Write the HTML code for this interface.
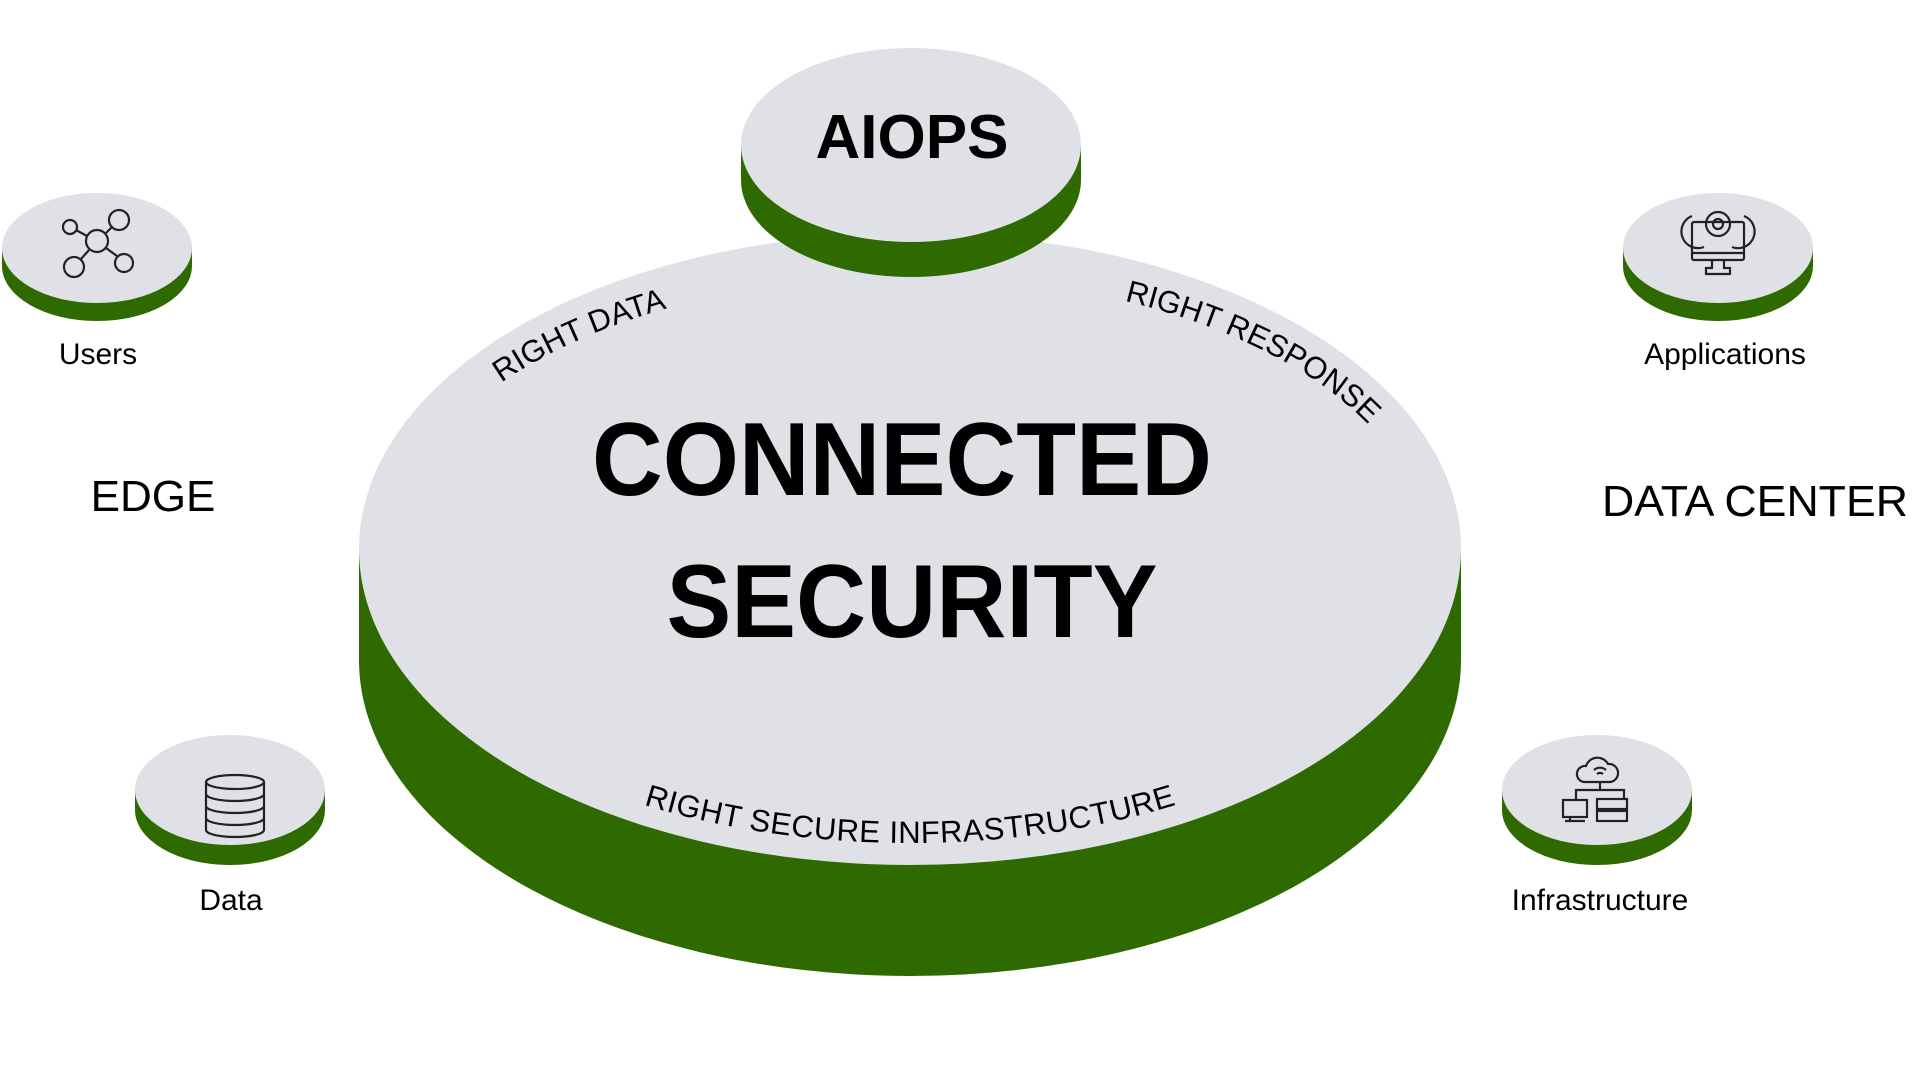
<!DOCTYPE html>
<html><head><meta charset="utf-8"><style>
html,body{margin:0;padding:0;background:#fff;}
svg{display:block;}
text{font-family:"Liberation Sans",sans-serif;fill:#000;}
</style></head><body>
<svg width="1920" height="1080" viewBox="0 0 1920 1080" xmlns="http://www.w3.org/2000/svg">
<defs>
<path id="topArc" d="M 395 549 A 515 273 0 0 1 1425 549"/>
<path id="botArc" d="M 370 549 A 540 294 0 0 0 1450 549"/>
</defs>
<!-- main disc -->
<ellipse cx="910" cy="660" rx="551" ry="316" fill="#2e6a00"/>
<rect x="359" y="549" width="1102" height="111" fill="#2e6a00"/>
<ellipse cx="910" cy="549" rx="551" ry="316" fill="#e0e1e6"/>
<!-- AIOPS disc -->
<ellipse cx="911" cy="180" rx="170" ry="97" fill="#2e6a00"/>
<rect x="741" y="145" width="340" height="35" fill="#2e6a00"/>
<ellipse cx="911" cy="145" rx="170" ry="97" fill="#e0e1e6"/>
<text x="912" y="158" font-size="62" font-weight="bold" text-anchor="middle">AIOPS</text>
<!-- small discs -->
<g fill="#2e6a00">
<ellipse cx="97" cy="266" rx="95" ry="55"/><rect x="2" y="248" width="190" height="18"/>
<ellipse cx="1718" cy="266" rx="95" ry="55"/><rect x="1623" y="248" width="190" height="18"/>
<ellipse cx="230" cy="810" rx="95" ry="55"/><rect x="135" y="790" width="190" height="20"/>
<ellipse cx="1597" cy="810" rx="95" ry="55"/><rect x="1502" y="790" width="190" height="20"/>
</g>
<g fill="#e0e1e6">
<ellipse cx="97" cy="248" rx="95" ry="55"/>
<ellipse cx="1718" cy="248" rx="95" ry="55"/>
<ellipse cx="230" cy="790" rx="95" ry="55"/>
<ellipse cx="1597" cy="790" rx="95" ry="55"/>
</g>
<!-- icons -->
<g fill="none" stroke="#222" stroke-width="2.2">
 <circle cx="97" cy="241" r="11"/><circle cx="70" cy="227" r="7"/><circle cx="119" cy="220" r="10"/>
 <circle cx="74" cy="267" r="10"/><circle cx="124" cy="263" r="9"/>
 <line x1="76" y1="230" x2="87" y2="236"/><line x1="112" y1="227" x2="106" y2="233"/>
 <line x1="81" y1="259" x2="89" y2="250"/><line x1="117" y1="256" x2="106" y2="248"/>
 <rect x="1692" y="222" width="52" height="38" rx="2"/><line x1="1692" y1="253" x2="1744" y2="253"/>
 <path d="M1712 260 v8 h-6 v6 h24 v-6 h-6 v-8"/>
 <circle cx="1718" cy="224" r="12"/><circle cx="1718" cy="224" r="5"/>
 <path d="M1692 216 a16 16 0 0 0 12 31 M1744 216 a16 16 0 0 1 -12 31"/>
 <ellipse cx="235" cy="782" rx="29" ry="7"/>
 <path d="M206 782 v48 a29 7 0 0 0 58 0 v-48 M206 794 a29 7 0 0 0 58 0 M206 806 a29 7 0 0 0 58 0 M206 818 a29 7 0 0 0 58 0"/>
 <path d="M1584 782 a8 8 0 0 1 2 -16 a12 12 0 0 1 22 -2 a9 9 0 0 1 2 18 z"/>
 <path d="M1594 770 a9 9 0 0 1 12 0 M1597 774 a5 5 0 0 1 6 0"/>
 <path d="M1600 782 v8 M1576 800 v-10 h48 v10"/>
 <rect x="1563" y="800" width="24" height="17"/><path d="M1570 817 v4 h-5 h20"/>
 <rect x="1597" y="799" width="30" height="10"/><rect x="1597" y="811" width="30" height="10"/>
</g>
<!-- labels -->
<g font-size="30" text-anchor="middle">
<text x="98" y="364">Users</text>
<text x="1725" y="364">Applications</text>
<text x="231" y="910">Data</text>
<text x="1600" y="910">Infrastructure</text>
</g>
<text x="153" y="511" font-size="44" text-anchor="middle">EDGE</text>
<text x="1755" y="516" font-size="44" text-anchor="middle" textLength="306" lengthAdjust="spacingAndGlyphs">DATA CENTER</text>
<text x="902" y="495" font-size="104" font-weight="bold" text-anchor="middle" textLength="620" lengthAdjust="spacingAndGlyphs">CONNECTED</text>
<text x="912" y="637" font-size="104" font-weight="bold" text-anchor="middle" textLength="491" lengthAdjust="spacingAndGlyphs">SECURITY</text>
<!-- arc texts -->
<text font-size="31"><textPath href="#topArc" startOffset="23.4%" text-anchor="middle">RIGHT DATA</textPath></text>
<text font-size="31"><textPath href="#topArc" startOffset="78%" text-anchor="middle">RIGHT RESPONSE</textPath></text>
<text font-size="31"><textPath href="#botArc" startOffset="50%" text-anchor="middle" textLength="540" lengthAdjust="spacing">RIGHT SECURE INFRASTRUCTURE</textPath></text>
</svg>
</body></html>
